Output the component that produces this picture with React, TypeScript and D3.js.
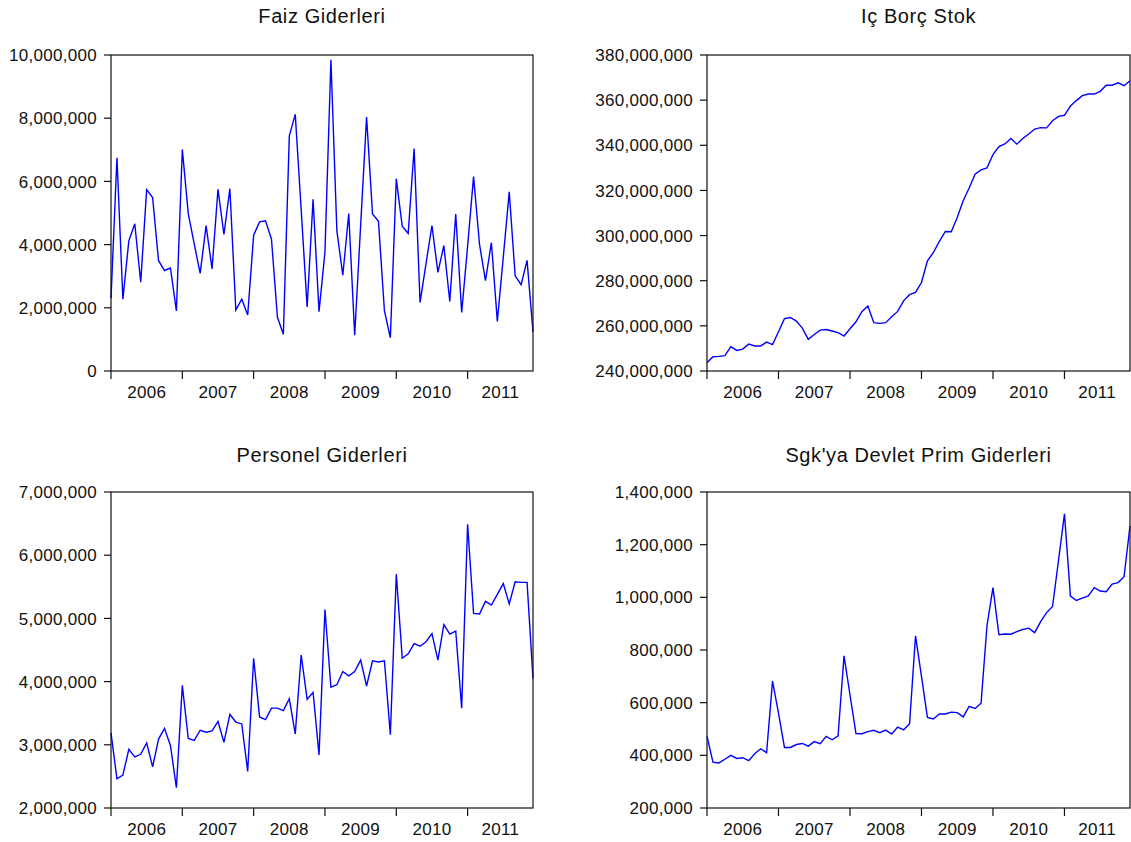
import React from "react";
import * as d3 from "d3";

const years = ["2006", "2007", "2008", "2009", "2010", "2011"];

// Faiz Giderleri (millions)
const faizM = [
  2.30, 6.75, 2.27, 4.12, 4.66, 2.81, 5.74, 5.49, 3.49, 3.18, 3.26, 1.90,
  7.01, 4.98, 4.02, 3.09, 4.60, 3.23, 5.75, 4.32, 5.77, 1.93, 2.27, 1.77,
  4.30, 4.72, 4.75, 4.17, 1.70, 1.16, 7.44, 8.12, 5.10, 2.03, 5.43, 1.88,
  3.77, 9.85, 4.44, 3.03, 4.98, 1.13, 4.60, 8.04, 4.97, 4.74, 1.91, 1.05,
  6.08, 4.58, 4.35, 7.04, 2.17, 3.40, 4.60, 3.12, 3.97, 2.20, 4.97, 1.85,
  3.95, 6.15, 4.01, 2.86, 4.06, 1.57, 3.60, 5.67, 3.01, 2.73, 3.50, 1.24,
];

// Iç Borç Stok (millions)
const borcM = [
  243.7, 246.3, 246.5, 246.8, 250.8, 249.1, 249.7, 251.9, 251.1, 251.1, 252.8, 251.7,
  257.4, 263.2, 263.7, 262.1, 259.0, 254.0, 256.2, 258.1, 258.4, 257.7, 257.0, 255.5,
  258.7, 261.8, 266.3, 268.8, 261.4, 261.1, 261.4, 264.0, 266.4, 271.1, 273.8, 274.8,
  279.2, 288.8, 292.5, 297.4, 301.8, 301.7, 308.0, 315.4, 321.1, 327.2, 329.1, 330.0,
  335.9, 339.4, 340.6, 343.0, 340.5, 343.0, 345.0, 347.2, 347.8, 347.7, 350.9, 352.8,
  353.3, 357.4, 359.8, 362.0, 362.7, 362.7, 363.9, 366.6, 366.6, 367.7, 366.4, 368.6,
];

// Personel Giderleri (millions)
const personelM = [
  3.19, 2.46, 2.52, 2.93, 2.81, 2.85, 3.03, 2.65, 3.09, 3.26, 2.99, 2.32,
  3.94, 3.10, 3.07, 3.23, 3.20, 3.22, 3.37, 3.04, 3.48, 3.36, 3.33, 2.58,
  4.37, 3.44, 3.40, 3.58, 3.58, 3.54, 3.73, 3.17, 4.42, 3.72, 3.83, 2.84,
  5.14, 3.91, 3.95, 4.16, 4.09, 4.16, 4.34, 3.93, 4.33, 4.31, 4.33, 3.16,
  5.70, 4.37, 4.44, 4.60, 4.56, 4.63, 4.76, 4.34, 4.90, 4.75, 4.80, 3.58,
  6.49, 5.08, 5.07, 5.27, 5.21, 5.38, 5.55, 5.23, 5.58, 5.57, 5.57, 4.05,
];

// Sgk'ya Devlet Prim Giderleri (thousands)
const sgkK = [
  472, 374, 371, 385, 400, 388, 391, 380, 406, 425, 410, 682,
  560, 430, 430, 441, 445, 435, 452, 444, 472, 459, 474, 778,
  630, 483, 482, 490, 495, 486, 496, 481, 507, 497, 520, 854,
  700, 544, 538, 557, 557, 564, 562, 546, 586, 578, 598, 893,
  1037, 858, 861, 860, 870, 878, 883, 866, 908, 942, 965, 1140,
  1317, 1005, 988, 997, 1005, 1037, 1024, 1021, 1050, 1056, 1078, 1271,
];

const faizTicks = [0, 2e6, 4e6, 6e6, 8e6, 10e6];
const borcTicks = [240e6, 260e6, 280e6, 300e6, 320e6, 340e6, 360e6, 380e6];
const personelTicks = [2e6, 3e6, 4e6, 5e6, 6e6, 7e6];
const sgkTicks = [200e3, 400e3, 600e3, 800e3, 1000e3, 1200e3, 1400e3];

const panels = [
  { title: "Faiz Giderleri", values: faizM.map((v) => v * 1e6), ticks: faizTicks, x0: 111, x1: 533, y0: 55, y1: 371, titleY: 23 },
  { title: "Iç Borç Stok", values: borcM.map((v) => v * 1e6), ticks: borcTicks, x0: 707, x1: 1130, y0: 55, y1: 371, titleY: 23 },
  { title: "Personel Giderleri", values: personelM.map((v) => v * 1e6), ticks: personelTicks, x0: 111, x1: 533, y0: 492, y1: 808, titleY: 462 },
  { title: "Sgk'ya Devlet Prim Giderleri", values: sgkK.map((v) => v * 1e3), ticks: sgkTicks, x0: 707, x1: 1130, y0: 492, y1: 808, titleY: 462 },
];

const fmt = d3.format(",");
const FONT = "'Liberation Sans', Arial, sans-serif";

function Panel({ p }: { p: (typeof panels)[number] }) {
  const n = p.values.length;
  const x = d3.scaleLinear().domain([0, n - 1]).range([p.x0, p.x1]);
  const y = d3
    .scaleLinear()
    .domain([p.ticks[0], p.ticks[p.ticks.length - 1]])
    .range([p.y1, p.y0]);
  const line = d3
    .line<number>()
    .x((_, i) => x(i))
    .y((d) => y(d));
  const cx = (p.x0 + p.x1) / 2;
  return (
    <g>
      <text
        x={cx}
        y={p.titleY}
        textAnchor="middle"
        fontFamily={FONT}
        fontSize={20}
        letterSpacing={0.6}
        fill="#111"
      >
        {p.title}
      </text>
      <path d={line(p.values) || ""} fill="none" stroke="#0000ff" strokeWidth={1.4} strokeLinejoin="miter" />
      <rect x={p.x0} y={p.y0} width={p.x1 - p.x0} height={p.y1 - p.y0} fill="none" stroke="#111" strokeWidth={1.2} />
      {p.ticks.map((t) => (
        <g key={t}>
          <line x1={p.x0 - 7} x2={p.x0} y1={y(t)} y2={y(t)} stroke="#111" strokeWidth={1.2} />
          <text
            x={p.x0 - 14}
            y={y(t)}
            dy="0.36em"
            textAnchor="end"
            fontFamily={FONT}
            fontSize={17}
            letterSpacing={0.3}
            fill="#111"
          >
            {fmt(t)}
          </text>
        </g>
      ))}
      {years.map((yr, k) => {
        const xs = x(k * 12);
        const xe = k === years.length - 1 ? p.x1 : x((k + 1) * 12);
        return (
          <g key={yr}>
            <line x1={xs} x2={xs} y1={p.y1} y2={p.y1 + 8} stroke="#111" strokeWidth={1.2} />
            <text
              x={(xs + xe) / 2}
              y={p.y1 + 27}
              textAnchor="middle"
              fontFamily={FONT}
              fontSize={17}
              letterSpacing={0.3}
              fill="#111"
            >
              {yr}
            </text>
          </g>
        );
      })}
    </g>
  );
}

export default function App() {
  return (
    <svg
      width={1131}
      height={842}
      style={{ position: "fixed", left: 0, top: 0, background: "#fff" }}
    >
      <rect x={0} y={0} width={1131} height={842} fill="#fff" />
      {panels.map((p) => (
        <Panel key={p.title} p={p} />
      ))}
    </svg>
  );
}
